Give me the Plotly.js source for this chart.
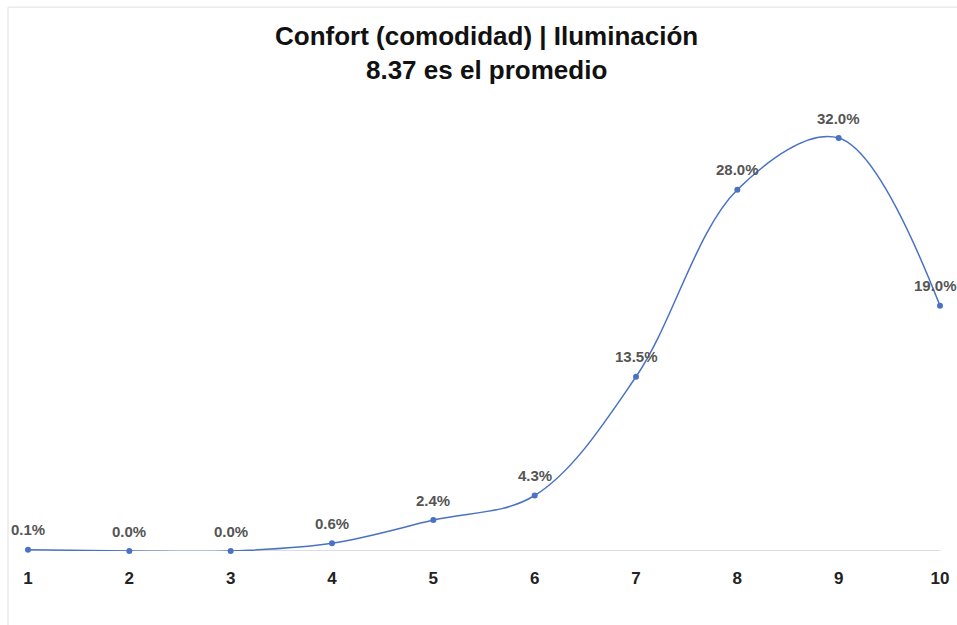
<!DOCTYPE html>
<html>
<head>
<meta charset="utf-8">
<script src="https://cdn.plot.ly/plotly-3.0.1.min.js"></script>
<style>html,body{margin:0;padding:0;background:#fff;}#chart{width:957px;height:625px;}</style>
</head>
<body>
<div id="chart"></div>
<script>
var categories = [1, 2, 3, 4, 5, 6, 7, 8, 9, 10];
var values = [0.1, 0.0, 0.0, 0.6, 2.4, 4.3, 13.5, 28.0, 32.0, 19.0];
var labels = values.map(function(v){ return v.toFixed(1) + '%'; });
var titleLine1 = 'Confort (comodidad) | Iluminación';
var titleLine2 = '8.37 es el promedio';

var trace = {
  x: categories,
  y: values,
  type: 'scatter',
  mode: 'lines+markers',
  line: {shape: 'spline', smoothing: 1, color: '#4a72c4', width: 1.5},
  marker: {size: 6, color: '#4a72c4'},
  cliponaxis: false,
  hoverinfo: 'x+y'
};

var annotations = categories.map(function(c, i){
  return {
    x: c, y: values[i], xref: 'x', yref: 'y',
    text: '<b>' + labels[i] + '</b>', showarrow: false,
    yshift: 20, xshift: (i === categories.length - 1) ? -5 : 0,
    font: {family: 'Liberation Sans, Arial, sans-serif', size: 15, color: '#555555'}
  };
});
annotations.push({
  xref: 'paper', yref: 'paper', x: 0.503, y: 1.206, yanchor: 'top', yshift: -12,
  text: '<b>' + titleLine1 + '</b><br><b>' + titleLine2 + '</b>', showarrow: false,
  font: {family: 'Liberation Sans, Arial, sans-serif', size: 26, color: '#111111'}
});

var layout = {
  width: 957, height: 625,
  margin: {l: 28, r: 17, t: 100, b: 74},
  paper_bgcolor: '#ffffff', plot_bgcolor: '#ffffff',
  showlegend: false,
  xaxis: {
    range: [1, 10], showgrid: false, zeroline: false, showline: false,
    tickvals: categories, ticktext: categories.map(String),
    tickfont: {family: 'Liberation Sans, Arial, sans-serif', size: 17, color: '#222222', weight: 'bold'},
    ticks: '', ticklen: 0, ticklabelstandoff: 15
  },
  yaxis: {
    range: [0, 34.95], showgrid: false, zeroline: false, showline: false,
    showticklabels: false, ticks: ''
  },
  annotations: annotations,
  shapes: [
    {type: 'line', xref: 'paper', yref: 'y', x0: 0, x1: 1, y0: 0, y1: 0, line: {color: '#d0d0d0', width: 1.5}, layer: 'below'},
    {type: 'line', xref: 'paper', yref: 'paper', x0: -0.0219, x1: -0.0219, y0: -0.17, y1: 1.206, line: {color: '#e0e0e0', width: 1}},
    {type: 'line', xref: 'paper', yref: 'paper', x0: -0.0219, x1: 1.02, y0: 1.206, y1: 1.206, line: {color: '#e0e0e0', width: 1}}
  ]
};

Plotly.newPlot('chart', [trace], layout, {displayModeBar: false, staticPlot: true});
</script>
</body>
</html>
